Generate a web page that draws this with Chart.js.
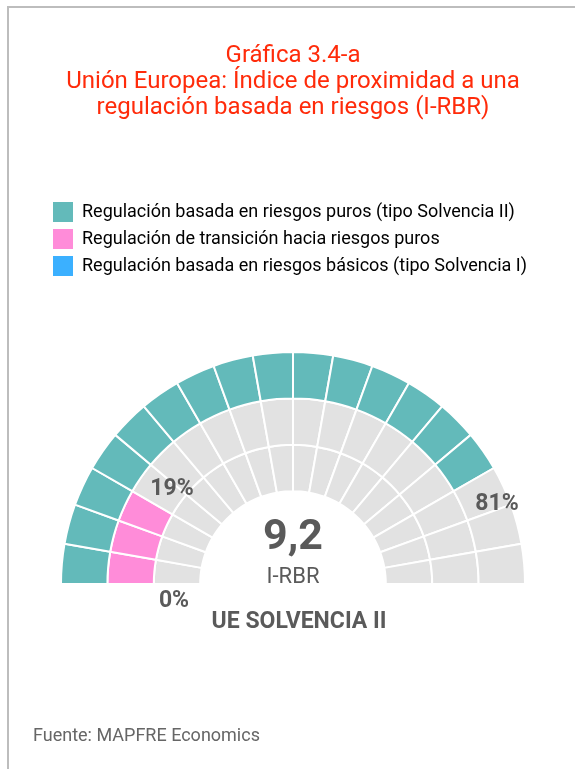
<!DOCTYPE html>
<html lang="es">
<head>
<meta charset="utf-8">
<title>Gráfica 3.4-a</title>
<script src="https://cdn.jsdelivr.net/npm/chart.js@4.4.1/dist/chart.umd.min.js"></script>
<style>
  html, body { margin: 0; padding: 0; background: #fff; }
  body { width: 575px; height: 769px; position: relative; overflow: hidden; }
  .frame { position: absolute; left: 7px; top: 6px; right: -10px; bottom: -10px; border-top: 2px solid #bdbdbd; border-left: 2px solid #bdbdbd; }
  .wrap { position: absolute; left: 0; top: 0; width: 575px; height: 769px; }
</style>
</head>
<body>
<div class="frame"></div>
<div class="wrap"><canvas id="irbr"></canvas></div>
<script>
// Rings, from outer to inner
const ringLabels = [
  'Regulación basada en riesgos puros (tipo Solvencia II)',
  'Regulación de transición hacia riesgos puros',
  'Regulación basada en riesgos básicos (tipo Solvencia I)'
];
const ringShares = [81, 19, 0];          // % shown next to each ring
const ringFilled = [15, 3, 0];           // coloured segments per ring
const segmentWeights = [1,1,1,1,1,1,1,1,1,1,1,1,1,1,1,1,1,1]; // 18 equal segments
const ringColors = ['#63baba', '#ff8cd9', '#3bb0ff'];
const emptyColor = '#e2e2e2';
const indexValue = '9,2';
const indexName = 'I-RBR';
const countryLabel = 'UE SOLVENCIA II';
const titleLines = ['Gráfica 3.4-a', 'Unión Europea: Índice de proximidad a una', 'regulación basada en riesgos (I-RBR)'];
const sourceText = 'Fuente: MAPFRE Economics';

const textGrey = '#5a5a5a';

const datasets = ringLabels.map(function(lbl, r){
  return {
    label: lbl,
    data: segmentWeights,
    backgroundColor: segmentWeights.map(function(_, i){ return i < ringFilled[r] ? ringColors[r] : emptyColor; }),
    borderColor: '#ffffff',
    borderWidth: 2,
    hoverOffset: 0
  };
});

// extra space between legend and the gauge
const legendGap = {
  id: 'legendGap',
  beforeLayout(chart){
    const lg = chart.legend;
    if (!lg || lg._gapPatched) return;
    const fit = lg.fit;
    lg.fit = function(){ fit.call(this); this.height += 65; };
    lg._gapPatched = true;
  }
};

const overlay = {
  id: 'overlay',
  afterDraw(chart){
    const arc = chart.getDatasetMeta(0).data[0];
    const cx = arc.x, cy = arc.y;
    const ctx = chart.ctx;
    ctx.save();
    ctx.fillStyle = textGrey;
    ctx.textAlign = 'center';
    ctx.textBaseline = 'middle';
    ctx.font = 'bold 43px Roboto';
    ctx.fillText(indexValue, cx, cy - 46);
    ctx.font = '22px Roboto';
    ctx.fillText(indexName, cx, cy - 7);
    ctx.font = 'bold 23px Roboto';
    ctx.fillText(ringShares[0] + '%', cx + 204, cy - 80);
    ctx.fillText(ringShares[1] + '%', cx - 121, cy - 95);
    ctx.fillText(ringShares[2] + '%', cx - 119, cy + 17);
    ctx.fillText(countryLabel, cx + 6, cy + 38);
    ctx.textAlign = 'left';
    ctx.fillStyle = '#666666';
    ctx.font = '18px Roboto';
    ctx.fillText(sourceText, 33, 736);
    ctx.restore();
  }
};

new Chart(document.getElementById('irbr'), {
  type: 'doughnut',
  data: { labels: segmentWeights.map(function(_, i){ return 'S' + (i + 1); }), datasets: datasets },
  plugins: [legendGap, overlay],
  options: {
    responsive: true,
    maintainAspectRatio: false,
    animation: false,
    rotation: -90,
    circumference: 180,
    cutout: '40%',
    layout: { padding: { top: 0, left: 46, right: 35, bottom: 184 } },
    plugins: {
      tooltip: { enabled: false },
      title: {
        display: true,
        text: titleLines,
        color: '#ff2b0a',
        font: { family: 'Roboto', size: 24, weight: 'normal', lineHeight: '26px' },
        padding: { top: 43, bottom: 74 }
      },
      legend: {
        display: true,
        position: 'top',
        align: 'start',
        onClick: null,
        labels: {
          boxWidth: 20,
          boxHeight: 20,
          padding: 7,
          color: '#606060',
          font: { family: 'Roboto', size: 18 },
          generateLabels: function(){
            return ringLabels.map(function(lbl, r){
              return { text: lbl, fillStyle: ringColors[r], strokeStyle: ringColors[r], lineWidth: 0, hidden: false, datasetIndex: r };
            });
          }
        }
      }
    }
  }
});
</script>
</body>
</html>
